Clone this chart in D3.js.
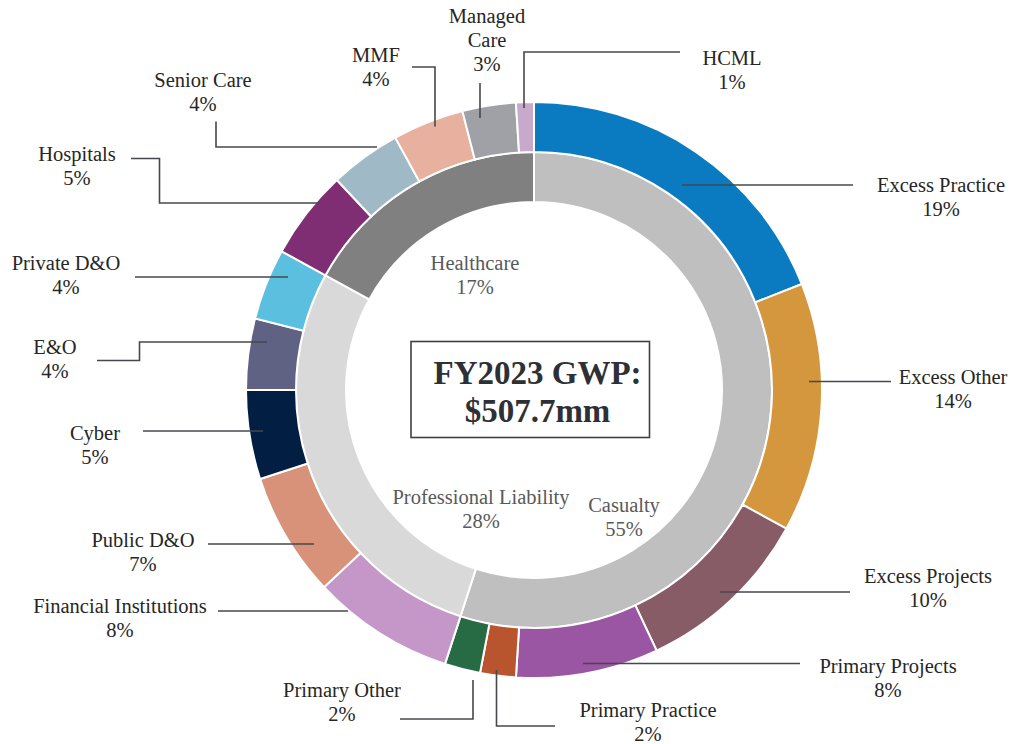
<!DOCTYPE html>
<html>
<head>
  <meta charset="utf-8">
  <style>
    body { margin: 0; background: #fff; }
    svg { font-family: "Liberation Serif", "Times New Roman", serif; }
    .lbl { font-size: 20.5px; fill: #262626; text-anchor: middle; }
    .inner-lbl { font-size: 20.5px; fill: #595959; text-anchor: middle; }
    .leader { fill: none; stroke: #45484d; stroke-width: 1.6; }
    .title { font-size: 33px; font-weight: bold; fill: #2d3035; text-anchor: middle; }
  </style>
</head>
<body>
<svg width="1013" height="744"></svg>
<script src="https://cdn.jsdelivr.net/npm/d3@7"></script>
<script>

// outer ring - lines of business (% of GWP)
var segments = ["Excess Practice", "Excess Other", "Excess Projects", "Primary Projects",
  "Primary Practice", "Primary Other", "Financial Institutions", "Public D&O", "Cyber",
  "E&O", "Private D&O", "Hospitals", "Senior Care", "MMF", "Managed Care", "HCML"]
var segmentPct = [19, 14, 10, 8, 2, 2, 8, 7, 5, 4, 4, 5, 4, 4, 3, 1]
var segmentColors = ["#0a7bc1", "#d4973e", "#875c66", "#9a55a3", "#b8552e", "#276b45",
  "#c497c8", "#d9927a", "#031e43", "#5f6282", "#5bbfe0", "#7f2e73", "#a0b9c6",
  "#e8b09f", "#a0a1a6", "#c7a9cb"]

// inner ring - segment groups
var groups = ["Casualty", "Professional Liability", "Healthcare"]
var groupPct = [55, 28, 17]
var groupColors = ["#bfbfbf", "#d9d9d9", "#808080"]

var title = ["FY2023 GWP:", "$507.7mm"]

// label layout: text centre / first baseline, and leader polyline
var labelLayout = {
  "Excess Practice":      {x: 941, y: 192, leader: [[853, 185], [682, 185]]},
  "Excess Other":         {x: 953, y: 384, leader: [[891, 381.5], [809, 381.5]]},
  "Excess Projects":      {x: 928, y: 583, leader: [[850, 592], [720, 592]]},
  "Primary Projects":     {x: 888, y: 673, leader: [[800, 663.5], [583, 663.5]]},
  "Primary Practice":     {x: 648, y: 716.5, leader: [[555, 726], [496.5, 726], [496.5, 670]]},
  "Primary Other":        {x: 342, y: 697, leader: [[400, 719], [473, 719], [473, 680]]},
  "Financial Institutions": {x: 120, y: 612.5, leader: [[218, 611], [348, 611]]},
  "Public D&O":           {x: 143, y: 547, leader: [[208, 544], [314, 544]]},
  "Cyber":                {x: 95, y: 440, leader: [[143, 431], [263, 431]]},
  "E&O":                  {x: 55, y: 354, leader: [[97, 360.5], [139.5, 360.5], [139.5, 342], [267, 342]]},
  "Private D&O":          {x: 66, y: 270, leader: [[135, 277], [288, 277]]},
  "Hospitals":            {x: 77, y: 160.5, leader: [[131, 158.5], [159.5, 158.5], [159.5, 203], [320, 203]]},
  "Senior Care":          {x: 203, y: 87, leader: [[216, 121.5], [216, 147], [377, 147]]},
  "MMF":                  {x: 376, y: 62, leader: [[412, 67], [435, 67], [435, 126.5]]},
  "Managed Care":         {x: 487, y: 22.5, lines: ["Managed", "Care"], leader: [[480, 83], [480, 118]]},
  "HCML":                 {x: 732, y: 65, leader: [[680, 52], [524, 52], [524, 108]]}
}
var innerLayout = {
  "Casualty": {x: 624, y: 512},
  "Professional Liability": {x: 481, y: 504},
  "Healthcare": {x: 475, y: 270}
}

var svg = d3.select("svg")
var cx = 534, cy = 390
var lineH = 24

var g = svg.append("g").attr("transform", "translate(" + cx + "," + cy + ")")

var pie = d3.pie().sort(null).value(function(d) { return d.v })

var outerArc = d3.arc().innerRadius(238).outerRadius(288)
var innerArc = d3.arc().innerRadius(188).outerRadius(238)

var outerData = pie(segments.map(function(s, i) { return {name: s, v: segmentPct[i], c: segmentColors[i]} }))
var innerData = pie(groups.map(function(s, i) { return {name: s, v: groupPct[i], c: groupColors[i]} }))

g.selectAll(".inner").data(innerData).enter().append("path")
  .attr("class", "inner")
  .attr("d", innerArc)
  .attr("fill", function(d) { return d.data.c })
  .attr("stroke", "#fff").attr("stroke-width", 2)

g.selectAll(".outer").data(outerData).enter().append("path")
  .attr("class", "outer")
  .attr("d", outerArc)
  .attr("fill", function(d) { return d.data.c })
  .attr("stroke", "#fff").attr("stroke-width", 2)

// leaders
var line = d3.line()
svg.selectAll(".leader").data(outerData).enter().append("path")
  .attr("class", "leader")
  .attr("d", function(d) { return line(labelLayout[d.data.name].leader) })

// outer labels
var lbl = svg.selectAll(".lbl").data(outerData).enter().append("text")
  .attr("class", "lbl")
  .attr("x", function(d) { return labelLayout[d.data.name].x })
  .attr("y", function(d) { return labelLayout[d.data.name].y })

lbl.each(function(d) {
  var L = labelLayout[d.data.name]
  var rows = (L.lines || [d.data.name]).concat([d.data.v + "%"])
  d3.select(this).selectAll("tspan").data(rows).enter().append("tspan")
    .attr("x", L.x)
    .attr("dy", function(r, i) { return i ? lineH : 0 })
    .text(function(r) { return r })
})

// inner labels
svg.selectAll(".inner-lbl").data(innerData).enter().append("text")
  .attr("class", "inner-lbl")
  .each(function(d) {
    var L = innerLayout[d.data.name]
    d3.select(this).selectAll("tspan").data([d.data.name, d.data.v + "%"]).enter().append("tspan")
      .attr("x", L.x)
      .attr("y", function(r, i) { return L.y + i * lineH })
      .text(function(r) { return r })
  })

// centre box
svg.append("rect")
  .attr("x", 411).attr("y", 341.5).attr("width", 238.5).attr("height", 96)
  .attr("fill", "#fff").attr("stroke", "#404040").attr("stroke-width", 1.6)

svg.selectAll(".title").data(title).enter().append("text")
  .attr("class", "title")
  .attr("x", 537.5)
  .attr("y", function(d, i) { return 383.5 + i * 38.5 })
  .text(function(d) { return d })

</script>
</body>
</html>
